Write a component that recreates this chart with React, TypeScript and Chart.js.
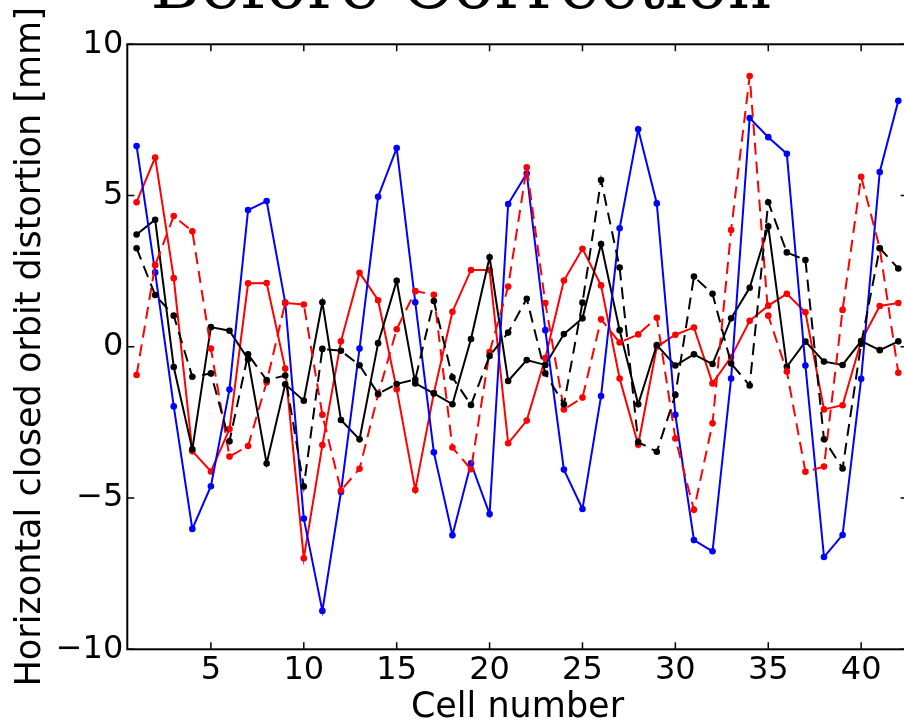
import { useEffect, useRef } from 'react';
import { Chart, registerables } from 'chart.js';

Chart.register(...registerables);

const cells = [1, 2, 3, 4, 5, 6, 7, 8, 9, 10, 11, 12, 13, 14, 15, 16, 17, 18, 19, 20, 21, 22, 23, 24, 25, 26, 27, 28, 29, 30, 31, 32, 33, 34, 35, 36, 37, 38, 39, 40, 41, 42];

const blueSolid = [6.64, 2.46, -1.97, -6.02, -4.61, -1.41, 4.52, 4.82, 1.46, -5.68, -8.73, -4.80, -0.06, 4.96, 6.57, 1.47, -3.49, -6.23, -3.85, -5.53, 4.72, 5.73, 0.55, -4.06, -5.36, -1.63, 3.92, 7.19, 4.74, -2.25, -6.39, -6.76, -1.05, 7.56, 6.93, 6.38, -0.62, -6.95, -6.22, -1.06, 5.78, 8.13];

const redSolid = [4.78, 6.26, 2.27, -3.45, -4.12, -2.72, 2.10, 2.11, -0.72, -6.99, -3.25, 0.18, 2.45, 1.54, -1.40, -4.73, -1.53, 1.16, 2.54, 2.54, -3.19, -2.44, -0.37, 2.19, 3.24, 2.03, -1.05, -3.24, 0.0, 0.40, 0.64, -1.21, -0.34, 0.86, 1.36, 1.75, 1.14, -2.07, -1.93, 0.19, 1.35, 1.45];

const blackSolid = [3.71, 4.20, -0.67, -3.39, 0.65, 0.53, -0.41, -3.86, -1.24, -1.78, 1.47, -2.42, -3.06, 0.12, 2.18, -1.21, -1.54, -1.90, 0.26, 2.96, -1.13, -0.44, -0.60, 0.42, 0.94, 3.40, 0.55, -1.90, 0.06, -0.62, -0.25, -0.57, 0.94, 1.95, 3.98, -0.66, 0.17, -0.49, -0.60, 0.19, -0.11, 0.18];

const redDashed = [-0.93, 2.70, 4.32, 3.82, -0.06, -3.63, -3.28, -1.17, 1.45, 1.40, -2.25, -4.75, -4.03, -1.58, 0.58, 1.84, 1.72, -3.33, -4.05, -0.17, 1.99, 5.93, 1.45, -2.07, -1.68, 0.91, 0.14, 0.41, 0.96, -3.03, -5.39, -2.53, 3.86, 8.95, 1.03, -0.82, -4.13, -3.96, 1.22, 5.62, 3.26, -0.86];

const blackDashed = [3.26, 1.71, 1.03, -0.99, -0.88, -3.12, -0.25, -1.10, -0.95, -4.62, -0.07, -0.13, -0.61, -1.55, -1.23, -1.08, 1.51, -1.01, -1.92, -0.30, 0.47, 1.59, -0.88, -1.90, 1.46, 5.51, 2.62, -3.15, -3.47, -1.59, 2.32, 1.75, -0.55, -1.28, 4.78, 3.12, 2.87, -3.06, -4.02, 0.10, 3.26, 2.59];

const xTicks = [5, 10, 15, 20, 25, 30, 35, 40];
const yTicks = [-10, -5, 0, 5, 10];

const titleText = 'Before Correction';
const xTitle = 'Cell number';
const yTitle = 'Horizontal closed orbit distortion [mm]';

const frame = {
  id: 'frame',
  afterDraw(chart: any) {
    const { ctx, chartArea, scales } = chart;
    const { left, right, top, bottom } = chartArea;
    const x = scales.x;
    const y = scales.y;
    ctx.save();
    ctx.strokeStyle = '#000';
    ctx.lineWidth = 2;
    ctx.strokeRect(left, top, right - left, bottom - top);
    ctx.lineWidth = 1.5;
    ctx.beginPath();
    for (const t of x.ticks) {
      const p = x.getPixelForValue(t.value);
      ctx.moveTo(p, bottom);
      ctx.lineTo(p, bottom - 7);
      ctx.moveTo(p, top);
      ctx.lineTo(p, top + 7);
    }
    for (const t of y.ticks) {
      const p = y.getPixelForValue(t.value);
      ctx.moveTo(left, p);
      ctx.lineTo(left + 7, p);
      ctx.moveTo(right, p);
      ctx.lineTo(right - 7, p);
    }
    ctx.stroke();
    ctx.fillStyle = '#000';
    ctx.font = '68px "DejaVu Serif"';
    ctx.textAlign = 'center';
    ctx.textBaseline = 'alphabetic';
    ctx.fillText(titleText, 461, 8);
    ctx.restore();
  },
};

function series(values: number[], color: string, dash: number[]) {
  return {
    data: cells.map((c, i) => ({ x: c, y: values[i] })),
    borderColor: color,
    backgroundColor: color,
    pointBackgroundColor: color,
    pointBorderColor: color,
    pointBorderWidth: 0,
    pointRadius: 3.3,
    borderWidth: 2,
    borderDash: dash,
    tension: 0,
    fill: false,
  };
}

export default function App() {
  const ref = useRef<HTMLCanvasElement>(null);
  useEffect(() => {
    const tickFont = { family: 'DejaVu Sans', size: 32 };
    const chart = new Chart(ref.current as HTMLCanvasElement, {
      type: 'line',
      data: {
        datasets: [
          series(blackDashed, '#000000', [12, 7]),
          series(redDashed, '#ff0000', [12, 7]),
          series(blueSolid, '#0000ff', []),
          series(blackSolid, '#000000', []),
          series(redSolid, '#ff0000', []),
        ] as any,
      },
      options: {
        responsive: false,
        devicePixelRatio: 1,
        animation: false,
        layout: { padding: { top: 44.3, right: 22.4, bottom: 0, left: 0 } },
        plugins: { legend: { display: false }, tooltip: { enabled: false } },
        scales: {
          x: {
            type: 'linear',
            min: 0.5,
            max: 42.5,
            afterBuildTicks: (s: any) => {
              s.ticks = xTicks.map((v) => ({ value: v }));
            },
            afterFit: (s: any) => {
              s.height = 722 - 649.3;
            },
            ticks: {
              color: '#000',
              font: tickFont,
              padding: 2,
              maxRotation: 0,
              autoSkip: false,
              callback: (v: any) => String(v),
            },
            grid: { display: false, drawTicks: false },
            border: { display: false },
            title: {
              display: true,
              text: xTitle,
              color: '#000',
              font: { family: 'DejaVu Sans', size: 35, lineHeight: 1 },
              padding: { top: 0, bottom: -3 },
            },
          },
          y: {
            type: 'linear',
            min: -10,
            max: 10,
            afterBuildTicks: (s: any) => {
              s.ticks = yTicks.map((v) => ({ value: v }));
            },
            afterFit: (s: any) => {
              s.width = 127.3;
            },
            ticks: {
              color: '#000',
              font: tickFont,
              padding: 4,
              callback: (v: any) => (Number(v) < 0 ? '\u2212' + Math.abs(Number(v)) : String(v)),
            },
            grid: { display: false, drawTicks: false },
            border: { display: false },
            title: {
              display: true,
              text: yTitle,
              color: '#000',
              font: { family: 'DejaVu Sans', size: 35, lineHeight: 1 },
              padding: { top: 13, bottom: 0 },
            },
          },
        },
      } as any,
      plugins: [frame],
    });
    return () => chart.destroy();
  }, []);
  return (
    <div style={{ position: 'absolute', left: 0, top: 0, width: 904, height: 722, overflow: 'hidden', background: '#fff' }}>
      <canvas ref={ref} width={930} height={722} style={{ display: 'block', width: 930, height: 722 }} />
    </div>
  );
}
